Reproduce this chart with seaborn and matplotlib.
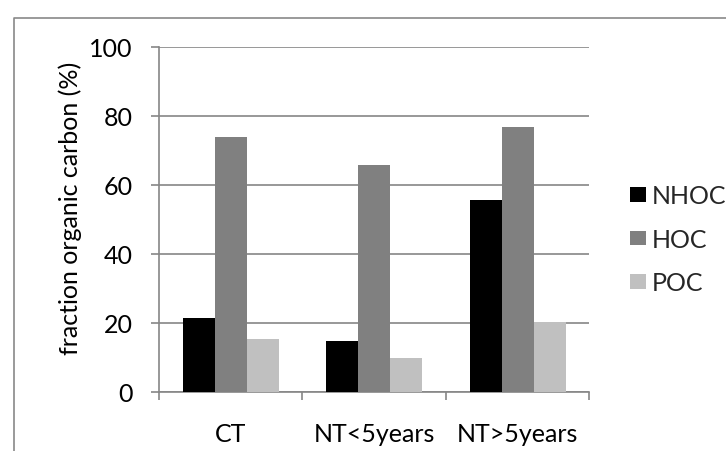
import matplotlib
matplotlib.use("Agg")
import matplotlib.pyplot as plt
from matplotlib.lines import Line2D
import seaborn as sns
import pandas as pd

categories = ["CT", "NT<5years", "NT>5years"]
series = ["NHOC", "HOC", "POC"]
nhoc = [21.3, 14.7, 55.5]
hoc = [73.8, 65.7, 76.7]
poc = [15.2, 9.7, 20.3]
colors = ["#000000", "#808080", "#c0c0c0"]
yticks = [0, 20, 40, 60, 80, 100]
ylabel = "fraction organic carbon (%)"

rows = []
for s, vals in zip(series, [nhoc, hoc, poc]):
    for c, v in zip(categories, vals):
        rows.append({"cat": c, "series": s, "val": v})
df = pd.DataFrame(rows)

sns.set_style("white")
plt.rcParams["font.family"] = ["Lato", "DejaVu Sans"]

W, H = 726, 452
fig = plt.figure(figsize=(W / 100, H / 100), dpi=100)
ax = fig.add_axes([159 / W, 1 - 392.5 / H, (589.5 - 159) / W, (392.5 - 48) / H])

sns.barplot(data=df, x="cat", y="val", hue="series", order=categories,
            hue_order=series, palette=colors, saturation=1, width=0.668,
            gap=0, linewidth=0, ax=ax, legend=True, zorder=3)

grid_c = "#868686"
ax.set_xlim(-0.5, 2.5)
ax.set_ylim(0, 100)
ax.set_yticks(yticks)
ax.set_yticklabels([str(t) for t in yticks])
ax.yaxis.grid(True, color=grid_c, linewidth=1.2, zorder=0)
ax.set_axisbelow(True)
for sp in ["top", "right"]:
    ax.spines[sp].set_visible(False)
for sp in ["left", "bottom"]:
    ax.spines[sp].set_color(grid_c)
    ax.spines[sp].set_linewidth(1.2)

fs = 18
ax.tick_params(axis="y", direction="out", length=5.8, width=1.2, color=grid_c,
               pad=13, labelsize=fs, labelcolor="black", left=True)
ax.set_xticks([-0.5, 0.5, 1.5, 2.5])
ax.set_xticklabels([])
ax.set_xticks([0, 1, 2], minor=True)
ax.set_xticklabels(categories, minor=True)
ax.tick_params(axis="x", which="major", direction="out", length=5.8, width=1.2,
               color=grid_c, bottom=True)
ax.tick_params(axis="x", which="minor", length=0, pad=22, labelsize=fs,
               labelcolor="black")
ax.set_xlabel("")
ax.set_ylabel(ylabel, fontsize=fs, color="black")
ax.yaxis.set_label_coords(-0.18, 0.535)

handles, labels = ax.get_legend_handles_labels()
ax.legend(handles, labels, loc="center left",
          bbox_to_anchor=(620 / W, 1 - 240.5 / H), bbox_transform=fig.transFigure,
          frameon=False, fontsize=fs, handlelength=0.63, handleheight=0.52,
          handletextpad=0.25, labelspacing=0.82, borderaxespad=0)

bc = "#898989"
fig.add_artist(Line2D([13.5 / W, 13.5 / W, 1.0], [0.0, 1 - 18.5 / H, 1 - 18.5 / H],
                      transform=fig.transFigure, color=bc, linewidth=1.2))

fig.savefig("out.png", dpi=100)
